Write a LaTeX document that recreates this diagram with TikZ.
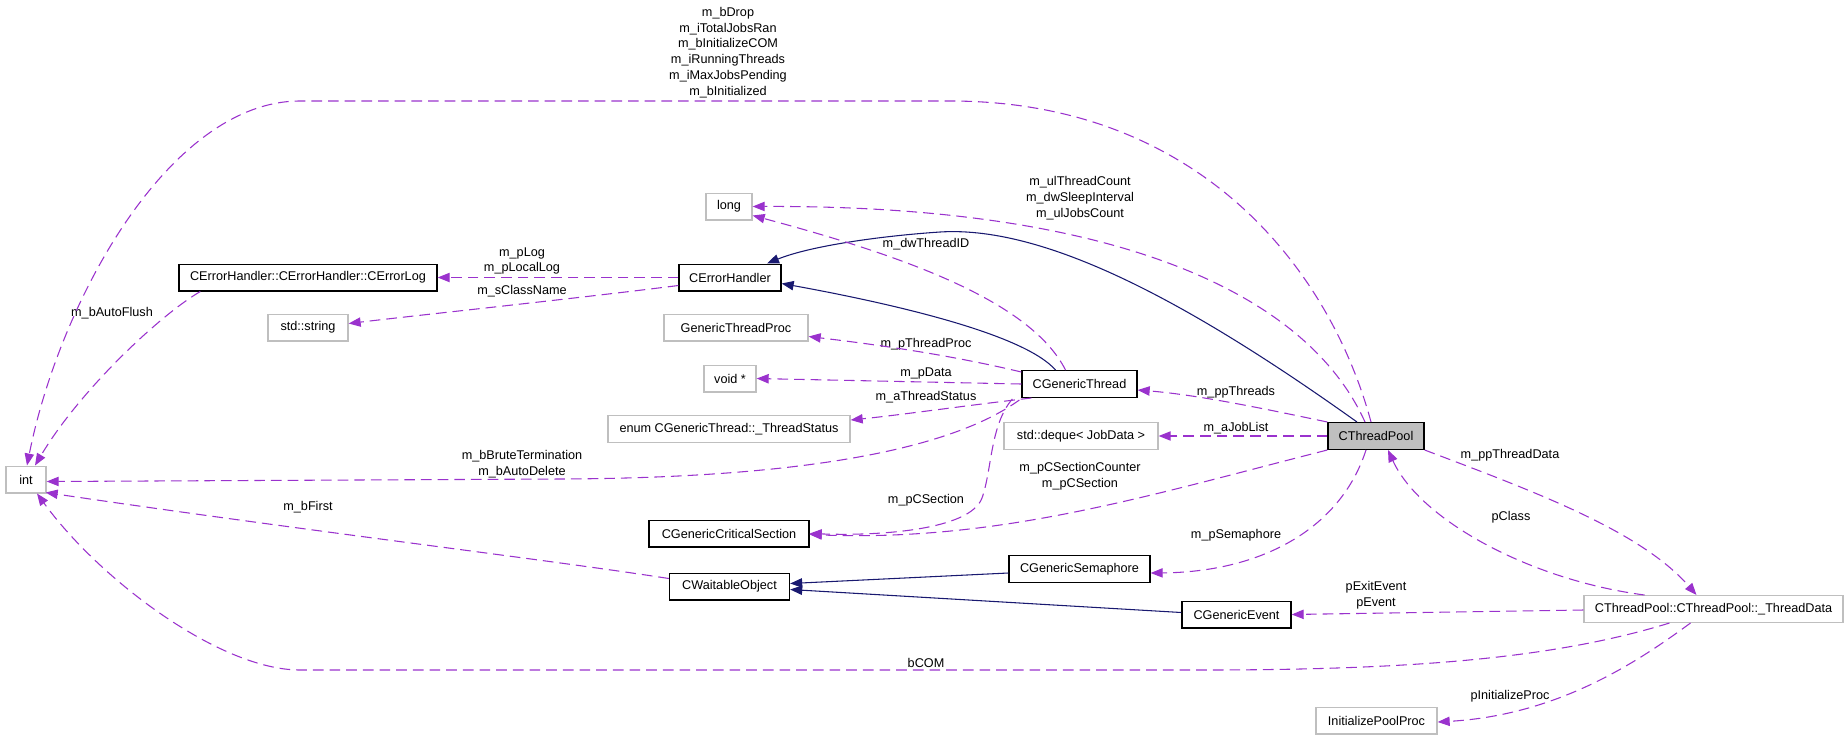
\documentclass[tikz,border=0pt]{standalone}
\usepackage{fontspec}
\setmainfont{Liberation Sans}
\usetikzlibrary{arrows.meta}
\definecolor{purp}{HTML}{9A32CD}
\definecolor{navyb}{HTML}{191970}
\definecolor{gbord}{HTML}{BFBFBF}
\newcommand\dxfont{\fontsize{9.5}{11.9}\selectfont}
\begin{document}
\begin{tikzpicture}[x=0.75pt,y=-0.75pt,
  cls/.style={draw=black, fill=white, line width=1pt, minimum height=20pt, inner sep=0pt, font=\dxfont},
  ext/.style={draw=gbord, fill=white, line width=1pt, minimum height=20pt, inner sep=0pt, font=\dxfont},
  bw/.style={minimum width=#1*0.75pt},
  uses/.style={draw=purp, dash pattern=on 8pt off 4.5pt, line width=0.8pt, -{Triangle[length=9pt,width=7pt,fill=purp]}},
  inh/.style={draw=navyb, line width=0.8pt, -{Triangle[length=9pt,width=7pt,fill=navyb]}},
  lab/.style={font=\dxfont, align=center, inner sep=0pt}]
\useasboundingbox (0,0) rectangle (1848,740);
% nodes
\node[ext, bw=40] (int) at (26,479.5) {int};
\node[cls, bw=258] (errlog) at (308,277.5) {CErrorHandler::CErrorHandler::CErrorLog};
\node[ext, bw=80] (sstring) at (308,327.5) {std::string};
\node[ext, bw=46] (long) at (729,206.5) {long};
\node[cls, bw=102] (errh) at (730,277.5) {CErrorHandler};
\node[ext, bw=144] (gtp) at (736,327.5) {GenericThreadProc};
\node[ext, bw=52] (void) at (730,378.5) {void *};
\node[ext, bw=242] (enum) at (729,429) {enum CGenericThread::\_ThreadStatus};
\node[cls, bw=115] (gthread) at (1079.5,384) {CGenericThread};
\node[ext, bw=154] (deque) at (1081,436) {std::deque< JobData >};
\node[cls, bw=160] (crit) at (729,533.5) {CGenericCriticalSection};
\node[cls, bw=141] (sem) at (1079.5,569) {CGenericSemaphore};
\node[cls, bw=120] (waitobj) at (729.5,586.5) {CWaitableObject};
\node[cls, bw=109] (event) at (1236.5,614.5) {CGenericEvent};
\node[cls, bw=96, fill=gbord] (pool) at (1376,436) {CThreadPool};
\node[ext, bw=259] (td) at (1713.5,609) {CThreadPool::CThreadPool::\_ThreadData};
\node[ext, bw=121] (ipp) at (1376.5,720.5) {InitializePoolProc};
% labels
\node[lab] (l1) at (728,52.5) {m\_bDrop\\m\_iTotalJobsRan\\m\_bInitializeCOM\\m\_iRunningThreads\\m\_iMaxJobsPending\\m\_bInitialized};
\node[lab] (l2) at (522,261) {m\_pLog\\m\_pLocalLog};
\node[lab] (l3) at (522,291) {m\_sClassName};
\node[lab] (l4) at (112,313) {m\_bAutoFlush};
\node[lab] (l5) at (1080,198) {m\_ulThreadCount\\m\_dwSleepInterval\\m\_ulJobsCount};
\node[lab] (l6) at (926,244) {m\_dwThreadID};
\node[lab] (l7) at (926,344) {m\_pThreadProc};
\node[lab] (l8) at (926,373) {m\_pData};
\node[lab] (l9) at (926,397) {m\_aThreadStatus};
\node[lab] (l10) at (1236,392) {m\_ppThreads};
\node[lab] (l11) at (1236,428) {m\_aJobList};
\node[lab] (l12) at (522,464) {m\_bBruteTermination\\m\_bAutoDelete};
\node[lab] (l13) at (1080,476) {m\_pCSectionCounter\\m\_pCSection};
\node[lab] (l14) at (926,500) {m\_pCSection};
\node[lab] (l15) at (308,507) {m\_bFirst};
\node[lab] (l16) at (1236,535) {m\_pSemaphore};
\node[lab] (l17) at (1510,455) {m\_ppThreadData};
\node[lab] (l18) at (1511,517) {pClass};
\node[lab] (l19) at (1376,595.5) {pExitEvent\\pEvent};
\node[lab] (l20) at (926,663) {bCOM};
\node[lab] (l21) at (1510,696) {pInitializeProc};
% edges
\draw[uses] ([shift={(-5,0)}]pool.north) .. controls (1330,270) and (1200,101) .. (950,101) -- (300,101) .. controls (170,101) and (60,300) .. ([shift={(1,0)}]int.north);
\draw[uses] ([shift={(22,0)}]errlog.south west) .. controls (160,315) and (80,390) .. ([shift={(9,0)}]int.north);
\draw[uses] (errh.west) -- (errlog.east);
\draw[uses] ([shift={(0,8)}]errh.west) .. controls (580,298) and (420,315) .. ([shift={(0,-4)}]sstring.east);
\draw[inh] ([shift={(-24,0)}]gthread.north) .. controls (1025,335) and (900,305) .. ([shift={(0,6)}]errh.east);
\draw[inh] ([shift={(-19,0)}]pool.north) .. controls (1200,310) and (1050,225) .. (940,232) .. controls (880,236) and (810,246) .. ([shift={(37,0)}]errh.north);
\draw[uses] ([shift={(-11,0)}]pool.north) .. controls (1310,300) and (1130,205) .. (long.east);
\draw[uses] ([shift={(-14,0)}]gthread.north) .. controls (1030,300) and (900,255) .. ([shift={(0,9)}]long.east);
\draw[uses] ([shift={(0,2)}]gthread.north west) .. controls (950,355) and (880,345) .. ([shift={(0,9)}]gtp.east);
\draw[uses] (gthread.west) -- (void.east);
\draw[uses] ([shift={(10,0)}]gthread.south west) .. controls (970,405) and (900,415) .. ([shift={(0,-9)}]enum.east);
\draw[uses] ([shift={(-2,2)}]gthread.south west) .. controls (950,450) and (800,478) .. (560,479) -- ([shift={(0,2)}]int.east);
\draw[uses] ([shift={(-9,1)}]gthread.south west) .. controls (990,425) and (992,470) .. (982,498) .. controls (970,530) and (880,536) .. (crit.east);
\draw[uses] (pool.north west) .. controls (1270,410) and (1200,395) .. ([shift={(0,6)}]gthread.east);
\draw[uses] (pool.west) -- (deque.east);
\draw[uses] (pool.south west) .. controls (1150,495) and (1000,542) .. ([shift={(0,1)}]crit.east);
\draw[uses] ([shift={(-10,0)}]pool.south) .. controls (1340,530) and (1260,572) .. ([shift={(0,4)}]sem.east);
\draw[inh] ([shift={(0,4)}]sem.west) -- ([shift={(0,-3)}]waitobj.east);
\draw[inh] ([shift={(0,-2)}]event.west) -- ([shift={(0,3)}]waitobj.east);
\draw[uses] ([shift={(0,-8)}]waitobj.west) .. controls (550,560) and (300,530) .. ([shift={(-1,-1)}]int.south east);
\draw[uses] ([shift={(-44,0)}]td.south) .. controls (1550,660) and (1400,670) .. (1200,670) -- (300,670) .. controls (220,670) and (100,580) .. ([shift={(11,0)}]int.south);
\draw[uses] ([shift={(0,1)}]td.west) -- (event.east);
\draw[uses] ([shift={(-23,0)}]td.south) .. controls (1640,660) and (1560,715) .. ([shift={(0,1.5)}]ipp.east);
\draw[uses] (pool.south east) .. controls (1530,490) and (1640,530) .. ([shift={(-17,0)}]td.north);
\draw[uses] ([shift={(-69,0)}]td.north) .. controls (1530,580) and (1420,520) .. ([shift={(12,0)}]pool.south);
\end{tikzpicture}
\end{document}
